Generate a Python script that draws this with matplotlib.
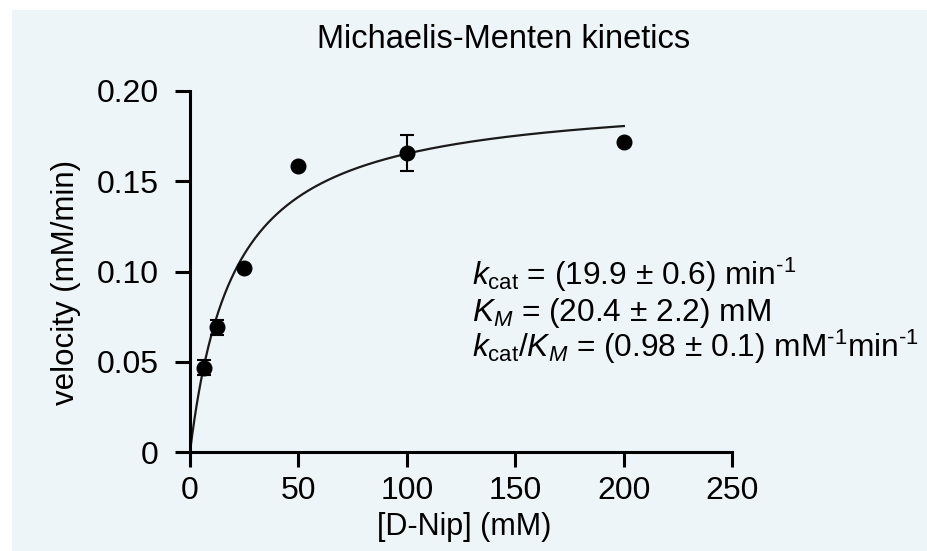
import matplotlib.pyplot as plt
import numpy as np
from matplotlib.patches import Rectangle

# données
substrate = [6.25, 12.5, 25, 50, 100, 200]           # [D-Nip] (mM)
velocity = [0.0467, 0.069, 0.1018, 0.1583, 0.1657, 0.1718]  # mM/min
vel_err = [0.0043, 0.004, 0.0, 0.0, 0.010, 0.0]

# paramètres du fit Michaelis-Menten (annotés sur la figure)
kcat = 19.9      # min^-1
Km = 20.4        # mM
enzyme = 0.01    # mM
Vmax = kcat * enzyme

plt.rcParams['font.family'] = ['Liberation Sans', 'DejaVu Sans']
plt.rcParams['mathtext.fontset'] = 'custom'
plt.rcParams['mathtext.rm'] = 'Liberation Sans'
plt.rcParams['mathtext.it'] = 'Liberation Sans:italic'

bg = '#eef5f8'
fig = plt.figure(figsize=(9.28, 5.51), dpi=100)
fig.patch.set_facecolor('white')
fig.add_artist(Rectangle((12 / 928, 0), 1, 1 - 10 / 551, transform=fig.transFigure,
                         facecolor=bg, edgecolor='none', zorder=-10))

ax = fig.add_axes([190 / 928, 99 / 551, 542.3 / 928, 361 / 551])
ax.set_facecolor('none')

# courbe du fit
s = np.linspace(0, 200, 400)
ax.plot(s, Vmax * s / (Km + s), color='#1a1a1a', lw=1.6, zorder=2)

# points expérimentaux
ax.errorbar(substrate, velocity, yerr=vel_err, fmt='o', color='black',
            ms=10.5, elinewidth=1.5, capsize=5, capthick=1.5, zorder=3)

ax.set_xlim(0, 250)
ax.set_ylim(0, 0.20)
ax.set_xticks([0, 50, 100, 150, 200, 250])
ax.set_yticks([0, 0.05, 0.10, 0.15, 0.20])
ax.set_yticklabels(['0', '0.05', '0.10', '0.15', '0.20'])

for side in ['top', 'right']:
    ax.spines[side].set_visible(False)
for side in ['left', 'bottom']:
    ax.spines[side].set_linewidth(2.2)
ax.tick_params(axis='both', direction='out', length=10.5, width=2.2,
               labelsize=23, color='black')
ax.tick_params(axis='y', pad=12)
ax.tick_params(axis='x', pad=7)

fig.text(66 / 928, 1 - 282 / 551, 'velocity (mM/min)', rotation=90,
         ha='center', va='center', fontsize=22.5)
fig.text(464 / 928, 1 - 527 / 551, '[D-Nip] (mM)', ha='center', va='center',
         fontsize=22)
fig.text(504 / 928, 1 - 40 / 551, 'Michaelis-Menten kinetics', ha='center',
         va='center', fontsize=23.5)

# annotation des paramètres
txt = [r'$k_{\mathrm{cat}}$ = (19.9 ± 0.6) min$^{\text{-1}}$',
       r'$K_M$ = (20.4 ± 2.2) mM',
       r'$k_{\mathrm{cat}}/K_M$ = (0.98 ± 0.1) mM$^{\text{-1}}$min$^{\text{-1}}$']
baselines = [285, 321, 357]
for t, y in zip(txt, baselines):
    fig.text(472 / 928, 1 - y / 551, t, ha='left', va='baseline', fontsize=22.8)

fig.savefig('out.png', dpi=100, facecolor=fig.get_facecolor())
